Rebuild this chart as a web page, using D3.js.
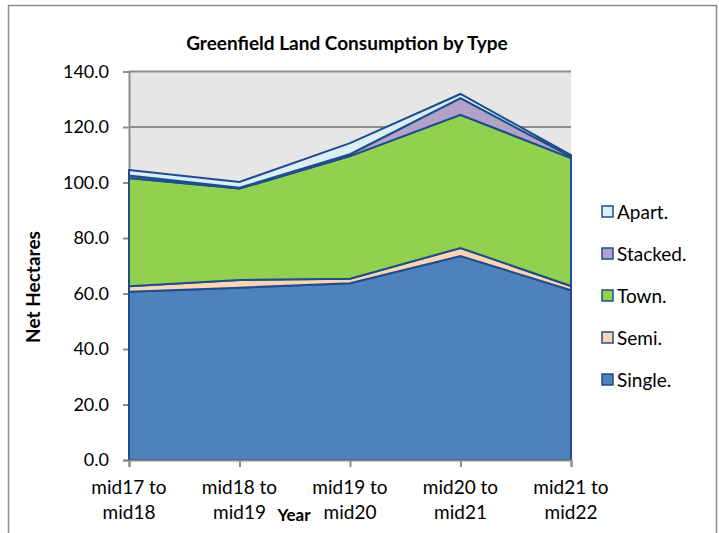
<!DOCTYPE html>
<html>
<head>
<meta charset="utf-8">
<script src="https://cdn.jsdelivr.net/npm/d3@7"></script>
<style>
  body { margin: 0; background: #fff; }
  svg { font-family: Lato, "Liberation Sans", sans-serif; }
</style>
</head>
<body>
<svg id="chart" width="719" height="533"></svg>
<script>
// categories and series values (net hectares)
const years = ["mid17 to\nmid18", "mid18 to\nmid19", "mid19 to\nmid20", "mid20 to\nmid21", "mid21 to\nmid22"];
const single = [60.6, 62.1, 63.7, 73.5, 61.2];
const semi = [2.0, 2.8, 1.6, 2.9, 1.5];
const town = [39.0, 32.9, 44.2, 48.0, 46.1];
const stacked = [0.9, 0.3, 0.7, 6.0, 0.5];
const apart = [2.0, 2.1, 4.0, 1.5, 0.6];
const yTicks = [0, 20, 40, 60, 80, 100, 120, 140];

const seriesNames = ["Single.", "Semi.", "Town.", "Stacked.", "Apart."];
const seriesColors = ["#4f81bd", "#fcd5b5", "#92d050", "#b3a2c7", "#dbeef4"];
const seriesData = [single, semi, town, stacked, apart];

const svg = d3.select("#chart");

// outer chart frame
svg.append("rect")
  .attr("x", 8.5).attr("y", 5.5)
  .attr("width", 708).attr("height", 540)
  .attr("fill", "#fff")
  .attr("stroke", "#8c8c8c")
  .attr("stroke-width", 1.5);

const margin = { left: 129, right: 571, top: 71.5, bottom: 460 };

// build table for the stack layout
let table = years.map(function (y, i)
{
  let row = { year: y };
  seriesNames.forEach(function (n, j)
  {
    row[n] = seriesData[j][i];
  });
  return row;
});

let x = d3.scalePoint()
  .domain(years)
  .range([margin.left, margin.right]);

let y = d3.scaleLinear()
  .domain([0, 140])
  .range([margin.bottom, margin.top]);

// plot background
svg.append("rect")
  .attr("x", margin.left).attr("y", margin.top)
  .attr("width", margin.right - margin.left)
  .attr("height", margin.bottom - margin.top)
  .attr("fill", "#e6e6e6");

// gridlines + y axis
let yAxis = d3.axisLeft(y)
  .tickValues(yTicks)
  .tickFormat(d3.format(".1f"))
  .tickSize(6)
  .tickPadding(14);

let gy = svg.append("g")
  .attr("transform", "translate(" + margin.left + ",0)")
  .call(yAxis);
gy.select(".domain").attr("stroke", "#8c8c8c").attr("stroke-width", 2);
gy.selectAll(".tick line").attr("stroke", "#8c8c8c").attr("stroke-width", 2);
gy.selectAll(".tick text")
  .attr("font-size", 18)
  .attr("fill", "#000")
  .attr("font-family", "Lato, sans-serif");

svg.append("g").selectAll("line")
  .data(yTicks.filter(function (d) { return d > 0; }))
  .join("line")
  .attr("x1", margin.left).attr("x2", margin.right)
  .attr("y1", function (d) { return y(d); })
  .attr("y2", function (d) { return y(d); })
  .attr("stroke", "#8c8c8c")
  .attr("stroke-width", 2);

// stacked areas
let stack = d3.stack().keys(seriesNames);
let layers = stack(table);

let area = d3.area()
  .x(function (d) { return x(d.data.year); })
  .y0(function (d) { return y(d[0]); })
  .y1(function (d) { return y(d[1]); });

svg.append("g").selectAll("path")
  .data(layers)
  .join("path")
  .attr("d", area)
  .attr("fill", function (d, i) { return seriesColors[i]; })
  .attr("stroke", "#1f4e8c")
  .attr("stroke-width", 2)
  .attr("stroke-linejoin", "miter");

// x axis
let xAxis = d3.axisBottom(x).tickSize(7).tickFormat("");
let gx = svg.append("g")
  .attr("transform", "translate(0," + margin.bottom + ")")
  .call(xAxis);
gx.select(".domain").attr("stroke", "#8c8c8c").attr("stroke-width", 2);
gx.selectAll(".tick line").attr("stroke", "#8c8c8c").attr("stroke-width", 2);

// two-line category labels
svg.append("g").selectAll("text")
  .data(years)
  .join("text")
  .attr("x", function (d) { return x(d); })
  .attr("y", 494)
  .attr("text-anchor", "middle")
  .attr("font-size", 19)
  .each(function (d)
  {
    let parts = d.split("\n");
    let t = d3.select(this);
    parts.forEach(function (p, k)
    {
      t.append("tspan")
        .attr("x", x(d))
        .attr("dy", k === 0 ? 0 : 25)
        .text(p);
    });
  });

// titles
svg.append("text")
  .attr("x", 347).attr("y", 50)
  .attr("text-anchor", "middle")
  .attr("font-size", 19)
  .attr("font-weight", "bold")
  .text("Greenfield Land Consumption by Type");

svg.append("text")
  .attr("x", 294).attr("y", 521)
  .attr("text-anchor", "middle")
  .attr("font-size", 17)
  .attr("font-weight", "bold")
  .text("Year");

svg.append("text")
  .attr("transform", "translate(40,287) rotate(-90)")
  .attr("text-anchor", "middle")
  .attr("font-size", 19)
  .attr("font-weight", "bold")
  .text("Net Hectares");

// legend, top entry is last series
let legendItems = seriesNames.slice().reverse();
let legendColors = seriesColors.slice().reverse();
let legend = svg.append("g").selectAll("g")
  .data(legendItems)
  .join("g")
  .attr("transform", function (d, i) { return "translate(602," + (212 + i * 42) + ")"; });

legend.append("rect")
  .attr("x", 0).attr("y", -6)
  .attr("width", 11).attr("height", 11)
  .attr("fill", function (d, i) { return legendColors[i]; })
  .attr("stroke", "#1f4e8c")
  .attr("stroke-width", 1.5);

legend.append("text")
  .attr("x", 15).attr("y", 7)
  .attr("font-size", 19)
  .text(function (d) { return d; });
</script>
</body>
</html>
